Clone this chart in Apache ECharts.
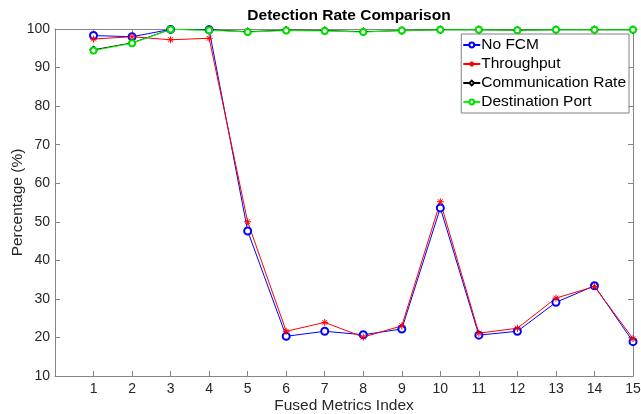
<!DOCTYPE html>
<html><head><meta charset="utf-8">
<script src="https://cdn.jsdelivr.net/npm/echarts@6/dist/echarts.min.js"></script>
<style>html,body{margin:0;padding:0;background:#fff}#c{width:641px;height:414px}</style>
</head><body><div id="c"></div>
<script>
const xIndex = [1,2,3,4,5,6,7,8,9,10,11,12,13,14,15];
const noFCM = [98.3,98.0,99.9,99.8,47.6,20.3,21.6,20.7,22.2,53.6,20.6,21.6,29.1,33.4,18.9];
const throughput = [97.4,98.0,97.2,97.6,50.0,21.6,23.9,20.1,23.0,55.2,21.1,22.4,30.2,33.2,19.7];
const commRate = [94.6,96.4,99.9,99.8,99.3,99.7,99.6,99.3,99.6,99.8,99.8,99.7,99.8,99.8,99.8];
const destPort = [94.4,96.3,99.9,99.7,99.2,99.6,99.5,99.2,99.6,99.8,99.8,99.7,99.8,99.8,99.8];
const seriesNames = ['No FCM','Throughput','Communication Rate','Destination Port'];

const font = '"Liberation Sans", Arial, Helvetica, sans-serif';
const axisCol = '#858585';
const txt = '#262626';
const star = 'path://M0,5L10,5M5,0L5,10M1.5,1.5L8.5,8.5M8.5,1.5L1.5,8.5';
function pairs(v){ return xIndex.map((x,i)=>[x,v[i]]); }

const chart = echarts.init(document.getElementById('c'), null, {renderer:'canvas'});
const base = {type:'line', smooth:false, animation:false, symbolSize:6};
chart.setOption({
  backgroundColor:'#fff',
  animation:false,
  title:{text:'Detection Rate Comparison', left:344, top:3, textAlign:'center',
    textStyle:{fontFamily:font, fontSize:15.5, fontWeight:'bold', color:'#000'}},
  grid:{left:55, right:8, top:29, bottom:38, containLabel:false, outerBoundsMode:'none'},
  legend:{orient:'vertical', right:12, top:34, itemWidth:17, itemHeight:6, itemGap:3,
    padding:[3,3,3,1], borderColor:'#808080', borderWidth:1, backgroundColor:'#fff',
    textStyle:{fontFamily:font, fontSize:15.5, color:'#000', padding:[0,0,0,-4]},
    data:seriesNames},
  xAxis:[
    {type:'value', min:0, max:15, interval:1, position:'bottom',
     name:'Fused Metrics Index', nameLocation:'middle', nameGap:22, nameMoveOverlap:false,
     nameTextStyle:{fontFamily:font, fontSize:15.5, color:txt},
     axisLine:{onZero:false, lineStyle:{color:axisCol,width:1}},
     axisTick:{inside:true, length:5, lineStyle:{color:axisCol}},
     axisLabel:{fontFamily:font, fontSize:14, color:txt, margin:6,
       formatter:v=> v===0 ? '' : String(v)},
     splitLine:{show:false}},
    {type:'value', min:0, max:15, interval:1, position:'top',
     axisLine:{onZero:false, lineStyle:{color:axisCol,width:1}},
     axisTick:{inside:true, length:5, lineStyle:{color:axisCol}},
     axisLabel:{show:false}, splitLine:{show:false}}
  ],
  yAxis:[
    {type:'value', min:10, max:100, interval:10, position:'left',
     name:'Percentage (%)', nameLocation:'middle', nameGap:29, nameMoveOverlap:false,
     nameTextStyle:{fontFamily:font, fontSize:15.5, color:txt},
     axisLine:{show:true, onZero:false, lineStyle:{color:axisCol,width:1}},
     axisTick:{show:true, inside:true, length:5, lineStyle:{color:axisCol}},
     axisLabel:{fontFamily:font, fontSize:14, color:txt, margin:5},
     splitLine:{show:false}},
    {type:'value', min:10, max:100, interval:10, position:'right',
     axisLine:{show:true, onZero:false, lineStyle:{color:axisCol,width:1}},
     axisTick:{show:true, inside:true, length:5, lineStyle:{color:axisCol}},
     axisLabel:{show:false}, splitLine:{show:false}}
  ],
  series:[
    Object.assign({}, base, {name:seriesNames[0], data:pairs(noFCM), symbol:'emptyCircle', symbolSize:7,
      lineStyle:{color:'#0000ff', width:1}, itemStyle:{color:'#0000ff', borderWidth:1}}),
    Object.assign({}, base, {name:seriesNames[1], data:pairs(throughput), symbol:star, symbolSize:7,
      lineStyle:{color:'#ff0000', width:1}, itemStyle:{color:'#ff0000', borderColor:'#ff0000', borderWidth:1}}),
    Object.assign({}, base, {name:seriesNames[2], data:pairs(commRate), symbol:'emptyDiamond', symbolSize:6,
      lineStyle:{color:'#000000', width:1}, itemStyle:{color:'#000000', borderWidth:1}}),
    Object.assign({}, base, {name:seriesNames[3], data:pairs(destPort), symbol:'emptyCircle', symbolSize:6,
      lineStyle:{color:'#00ff00', width:1}, itemStyle:{color:'#00e000', borderWidth:1}})
  ]
});
</script></body></html>
